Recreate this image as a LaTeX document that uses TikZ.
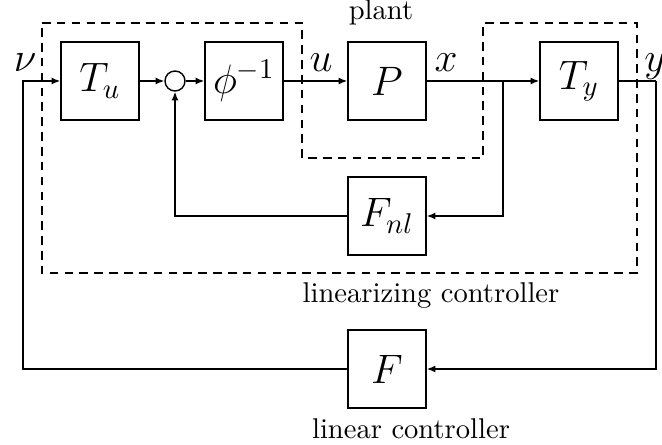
\documentclass[tikz,border=0pt]{standalone}
\usepackage{amsmath}
\usetikzlibrary{arrows.meta, positioning, calc}

\begin{document}
\begin{tikzpicture}[x=0.35pt, y=-0.35pt,
    block/.style={draw, line width=0.5pt, minimum width=27.3pt,
                  minimum height=27.3pt, inner sep=0pt, font=\Large},
    sumnode/.style={draw, circle, line width=0.5pt, minimum size=7pt, inner sep=0pt},
    wire/.style={line width=0.5pt},
    sig/.style={wire, -{Latex[length=3pt, width=2.4pt]}},
    lbl/.style={font=\Large, anchor=base, inner sep=0pt},
    ctrl/.style={line width=0.7pt, dash pattern=on 3pt off 2.2pt}]

    \useasboundingbox (0,0) rectangle (662,445);

    % Blocks
    \node[block] (Tu) at (100,81) {$T_u$};
    \node[sumnode] (sum) at (175,81) {};
    \node[block] (phi) at (244,81) {$\phi^{-1}$};
    \node[block] (P) at (387,81) {$P$};
    \node[block] (Ty) at (579,81) {$T_y$};
    \node[block] (Fnl) at (387,216) {$F_{nl}$};
    \node[block] (F) at (387,369) {$F$};

    % Corner points
    \coordinate (in) at (23,81);
    \coordinate (br) at (503,81);
    \coordinate (out) at (656,81);

    % Signals
    \draw[sig] (Tu) -- (sum);
    \draw[sig] (sum) -- (phi);
    \draw[sig] (phi) -- (P);
    \draw[sig] (P) -- (Ty);
    \draw[sig] (br) |- (Fnl);
    \draw[sig] (Fnl) -| (sum);
    \draw[wire] (Ty) -- (out);
    \draw[sig] (out) |- (F);
    \draw[sig] (F) -| (in) -- (Tu);

    % Signal labels
    \node[lbl] (nu) at (25,72) {$\nu$};
    \node[lbl] (u) at (321,72) {$u$};
    \node[lbl] (x) at (446,72) {$x$};
    \node[lbl] (y) at (655,72) {$y$};

    % Controller boundary
    \draw[ctrl] (42,23) -- (302,23) -- (302,158) -- (483,158) -- (483,23)
                -- (637,23) -- (637,273) -- (42,273) -- cycle;

    % Captions
    \node[anchor=base] (plant) at (381,20) {plant};
    \node[anchor=base] (lin) at (431,303) {linearizing controller};
    \node[anchor=base] (linc) at (411,438) {linear controller};

\end{tikzpicture}
\end{document}
